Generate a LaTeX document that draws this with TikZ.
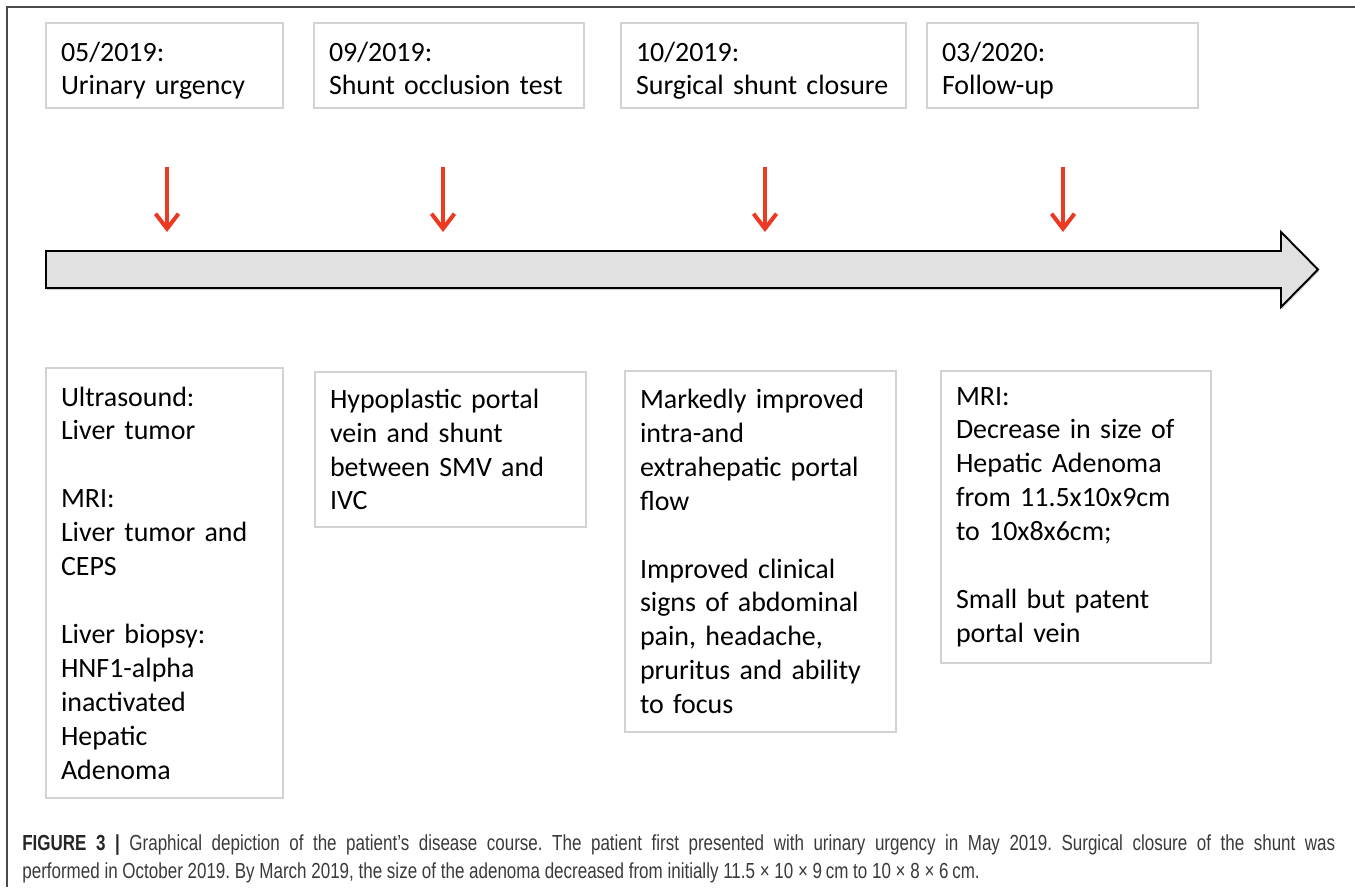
\documentclass[tikz,border=0pt]{standalone}
\usepackage{fontspec}
\setmainfont{Carlito}
\newfontfamily\capfont[FakeStretch=0.78]{Liberation Sans}
\usetikzlibrary{arrows.meta,shadows}

\definecolor{framegray}{HTML}{4A4A4A}
\definecolor{boxgray}{HTML}{D2D2D2}
\definecolor{bargray}{HTML}{E1E1E1}
\definecolor{markred}{HTML}{EC3A22}
\definecolor{capgray}{HTML}{3A3A3A}

% same top and bottom for both lines of a date box
\newcommand{\hiline}{\rule{0pt}{0.71cm}}
\newcommand{\loline}{\rule[-0.21cm]{0pt}{0pt}}

\tikzstyle{datebox} = [rectangle, draw=boxgray, line width=1.1pt,
    inner xsep=0.3cm, inner ysep=0pt, align=left, minimum height=1.71cm,
    font=\fontsize{15.9}{19.3}\selectfont]
\tikzstyle{findbox} = [datebox, minimum height=1cm]
\tikzstyle{markarrow} = [draw=markred, line width=2.3pt,
    -{Straight Barb[length=0.3cm,width=0.46cm]}]
\tikzstyle{timeline} = [draw=black, line width=1.1pt, fill=bargray,
    drop shadow={shadow xshift=0.5pt, shadow yshift=-1.2pt, opacity=0.35}]
\tikzstyle{frameline} = [draw=framegray, line width=0.9pt]
\tikzstyle{capline} = [inner sep=0pt, anchor=base west, text=capgray,
    font=\capfont\fontsize{12.4}{14.5}\selectfont\frenchspacing]

\begin{document}
\begin{tikzpicture}
	\useasboundingbox (0,0) rectangle (27.1,-17.74);
	\draw [frameline] (27.1,-0.14) -- (0.14,-0.14) -- (0.14,-17.74);
	%
	\node [datebox, text width=4.14cm] (may) at (3.29,-1.31) {\hiline 05/2019:\\Urinary urgency\loline};
	\node [datebox, text width=4.80cm] (sep) at (8.98,-1.31) {\hiline 09/2019:\\Shunt occlusion test\loline};
	\node [datebox, text width=5.10cm] (oct) at (15.27,-1.31) {\hiline 10/2019:\\Surgical shunt closure\loline};
	\node [datebox, text width=4.82cm] (mar) at (21.25,-1.31) {\hiline 03/2020:\\Follow-up\loline};
	%
	\foreach \n/\x in {1/3.34, 2/8.86, 3/15.30, 4/21.26} {
		\coordinate (top\n) at (\x,-3.34);
		\coordinate (tip\n) at (\x,-4.64);
		\draw [markarrow] (top\n) -- (tip\n);
	}
	%
	\draw [timeline] (0.92,-5.02) -- (25.62,-5.02) -- (25.62,-4.64) -- (26.36,-5.39)
		-- (25.62,-6.14) -- (25.62,-5.76) -- (0.92,-5.76) -- cycle;
	%
	\node [findbox, text width=4.14cm, minimum height=8.60cm] (mayf) at (3.29,-11.66)
		{Ultrasound:\\Liver tumor\\~\\MRI:\\Liver tumor and\\CEPS\\~\\Liver biopsy:\\HNF1-alpha\\inactivated\\Hepatic\\Adenoma};
	\node [findbox, text width=4.82cm, minimum height=3.10cm] (sepf) at (9.01,-8.99)
		{Hypoplastic portal\\vein and shunt\\between SMV and\\IVC};
	\node [findbox, text width=4.82cm, minimum height=7.22cm] (octf) at (15.21,-11.03)
		{Markedly improved\\intra-and\\extrahepatic portal\\flow\\~\\Improved clinical\\signs of abdominal\\pain, headache,\\pruritus and ability\\to focus};
	\node [findbox, text width=4.80cm, minimum height=5.84cm] (marf) at (21.52,-10.34)
		{MRI:\\Decrease in size of\\Hepatic Adenoma\\from 11.5x10x9cm\\to 10x8x6cm;\\~\\Small but patent\\portal vein};
	%
	\node [capline] (capa) at (0.44,-17.00) {\makebox[26.26cm][s]{\textbf{\color{black!85}FIGURE 3 |} Graphical depiction of the patient’s disease course. The patient first presented with urinary urgency in May 2019. Surgical closure of the shunt was}};
	\node [capline] (capb) at (0.44,-17.56) {performed in October 2019. By March 2019, the size of the adenoma decreased from initially 11.5 × 10 × 9\,cm to 10 × 8 × 6\,cm.};
\end{tikzpicture}
\end{document}
